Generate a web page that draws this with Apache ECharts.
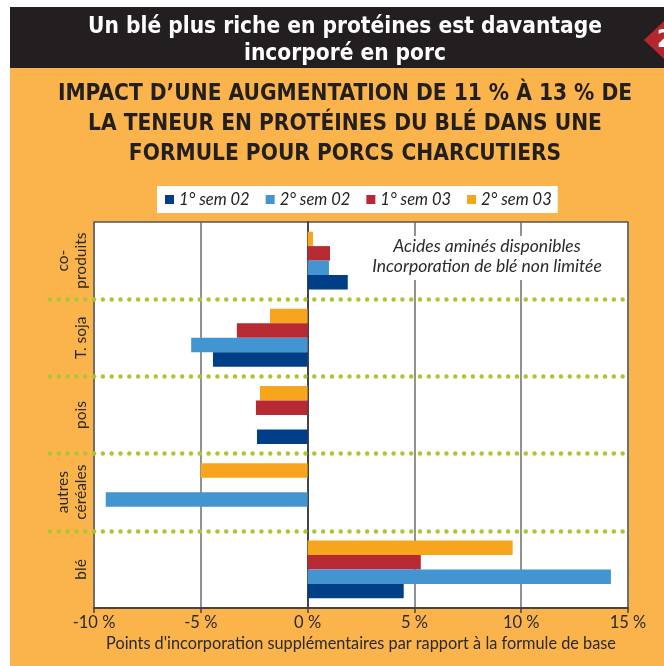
<!DOCTYPE html>
<html>
<head>
<meta charset="utf-8">
<script src="https://cdn.jsdelivr.net/npm/echarts@6/dist/echarts.min.js"></script>
<style>
html,body{margin:0;padding:0;background:#fff;}
#chart{width:664px;height:666px;}
</style>
</head>
<body>
<div id="chart"></div>
<script>
// ---- data ----
const categories = ['blé', 'autres\ncéréales', 'pois', 'T. soja', 'co-\nproduits'];
const seriesNames = ['1° sem 02', '2° sem 02', '1° sem 03', '2° sem 03'];
const sem1_02 = [4.5, 0, -2.37, -4.43, 1.88];
const sem2_02 = [14.2, -9.45, 0, -5.45, 1.0];
const sem1_03 = [5.3, 0, -2.42, -3.31, 1.05];
const sem2_03 = [9.6, -5.0, -2.23, -1.76, 0.25];
const xTicks = { min: -10, max: 15, interval: 5 };
const bannerText = 'Un blé plus riche en protéines est davantage\nincorporé en porc';
const subtitleText = 'IMPACT D\u2019UNE AUGMENTATION DE 11 % À 13 % DE\nLA TENEUR EN PROTÉINES DU BLÉ DANS UNE\nFORMULE POUR PORCS CHARCUTIERS';
const noteText = 'Acides aminés disponibles\nIncorporation de blé non limitée';
const xAxisName = "Points d'incorporation supplémentaires par rapport à la formule de base";

const colors = ['#003f87', '#4295d1', '#b72a33', '#f7a51c'];
const values = [sem1_02, sem2_02, sem1_03, sem2_03];
const bodyFont = 'Lato, "Noto Sans", sans-serif';
const titleFont = '"Liberation Sans Narrow", "DejaVu Sans Condensed", Arial, sans-serif';

const chart = echarts.init(document.getElementById('chart'), null, { renderer: 'canvas' });

// series declared in reverse so that the first legend entry sits at the bottom of each band
const order = [3, 2, 1, 0];

const option = {
  backgroundColor: '#ffffff',
  animation: false,
  title: [
    {
      text: bannerText,
      left: 340, top: 9, textAlign: 'center',
      textStyle: { color: '#ffffff', fontFamily: titleFont, fontWeight: 'bold', fontSize: 22.5, lineHeight: 27 }
    },
    {
      text: subtitleText,
      left: 340, top: 74, textAlign: 'center',
      textStyle: { color: '#231f20', fontFamily: titleFont, fontWeight: 'bold', fontSize: 22.5, lineHeight: 30 }
    }
  ],
  legend: {
    data: seriesNames,
    left: 157, top: 186,
    backgroundColor: '#ffffff',
    padding: [5, 6, 5, 8],
    icon: 'rect',
    itemWidth: 9, itemHeight: 9, itemGap: 16,
    textStyle: { fontFamily: bodyFont, fontStyle: 'italic', fontSize: 16.5, color: '#222' }
  },
  grid: [
    { left: 94, right: 36, top: 222, bottom: 58, show: true, backgroundColor: '#ffffff', borderColor: '#555', borderWidth: 1.5 },
    { left: 50, right: 36, top: 222, bottom: 58 }
  ],
  xAxis: [
    {
      type: 'value', gridIndex: 0,
      min: xTicks.min, max: xTicks.max, interval: xTicks.interval,
      name: xAxisName, nameLocation: 'middle', nameGap: 27,
      nameTextStyle: { fontFamily: bodyFont, fontSize: 16.3, color: '#2a2a2a' },
      axisLine: { show: true, onZero: false, lineStyle: { color: '#444', width: 2 } },
      axisTick: { show: true, length: 5, lineStyle: { color: '#444', width: 1.5 } },
      axisLabel: { fontFamily: bodyFont, fontSize: 16.5, color: '#2a2a2a', margin: 6, formatter: v => v + ' %' },
      splitLine: { show: true, lineStyle: { color: '#6e6e6e', width: 1.5 } }
    },
    { type: 'value', gridIndex: 1, min: 0, max: 1, show: false }
  ],
  yAxis: [
    {
      type: 'category', gridIndex: 0, data: categories,
      axisLine: { show: true, lineStyle: { color: '#444', width: 2 } },
      axisTick: { show: false },
      axisLabel: { rotate: 90, fontFamily: bodyFont, fontSize: 15.5, lineHeight: 18, color: '#2a2a2a', margin: 4 },
      splitLine: { show: false }
    },
    {
      type: 'value', gridIndex: 1, min: 0, max: 5, interval: 1, z: 3,
      axisLine: { show: false }, axisTick: { show: false }, axisLabel: { show: false },
      splitLine: { show: true, showMinLine: false, showMaxLine: false,
        lineStyle: { color: '#a9c733', width: 4.5, type: [0.01, 8.8], cap: 'round' } }
    }
  ],
  graphic: [
    { type: 'rect', z: -10, silent: true, shape: { x: 10, y: 68, width: 654, height: 598 }, style: { fill: '#fbb44b' } },
    { type: 'rect', z: -10, silent: true, shape: { x: 10, y: 7, width: 654, height: 61 }, style: { fill: '#231f20' } },
    { type: 'polygon', z: -5, silent: true, shape: { points: [[644, 40], [664, 21], [684, 40], [664, 59]] }, style: { fill: '#b5272d' } },
    { type: 'text', z: -4, silent: true, style: { text: '2', x: 657, y: 41, textVerticalAlign: 'middle', fill: '#fff', font: 'bold 24px ' + titleFont } },
    { type: 'text', z: 10, silent: true, style: { text: noteText, x: 487, y: 236, textAlign: 'center', fill: '#2a2a2a', font: 'italic 17.5px ' + bodyFont, lineHeight: 19.5, backgroundColor: '#ffffff', padding: [1, 6, 4, 6] } }
  ],
  series: order.map(i => ({
    name: seriesNames[i],
    type: 'bar',
    xAxisIndex: 0, yAxisIndex: 0,
    data: values[i],
    barGap: '0%',
    barCategoryGap: '25%',
    itemStyle: { color: colors[i] }
  }))
};
chart.setOption(option);
</script>
</body>
</html>
